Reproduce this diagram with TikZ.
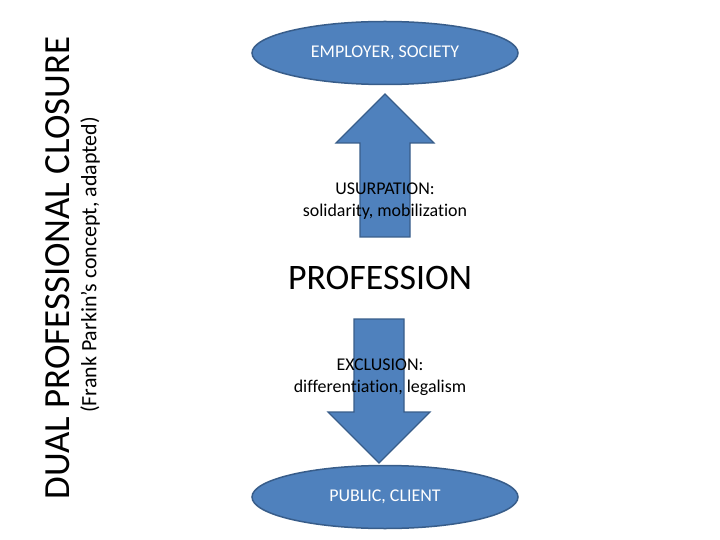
\documentclass[tikz,border=0pt]{standalone}
\usepackage{fontspec}
\setmainfont{Carlito}[Ligatures=NoCommon]
\usepackage{xcolor}
\usetikzlibrary{shapes.geometric,positioning,calc}

\definecolor{officeblue}{HTML}{4F81BD}
\definecolor{officeline}{HTML}{385D8A}

\begin{document}
\begin{tikzpicture}[
    x=1bp, y=-1bp,
    party/.style={
        ellipse, draw=officeline, line width=1.5bp, fill=officeblue,
        minimum width=266bp, minimum height=63bp, inner sep=0pt,
        text=white, font=\fontsize{18}{21}\selectfont
    },
    % block arrows: filled blue with darker border
    blockarrow/.style={
        fill=officeblue, draw=officeline, line width=1.2bp, line join=miter
    },
    lbl/.style={
        font=\fontsize{18}{22.5}\selectfont, align=center, inner sep=1pt
    }
]
\useasboundingbox (0,0) rectangle (720,540);

% === Title (rotated) ===
\node[rotate=90, font=\fontsize{37}{40}\selectfont] (title) at (58, 268) {DUAL PROFESSIONAL CLOSURE};
\node[rotate=90, font=\fontsize{22}{26}\selectfont] (subtitle) at (90, 265) {(Frank Parkin’s concept, adapted)};

% === Block arrows ===
\coordinate (uptip) at (385, 94);
\coordinate (downtip) at (379, 463);

% usurpation: points up
\draw[blockarrow] (uptip) -- ++(49, 49) -- ++(-24, 0) -- ++(0, 94)
    -- ++(-50, 0) -- ++(0, -94) -- ++(-24, 0) -- cycle;

% exclusion: points down
\draw[blockarrow] (downtip) -- ++(51, -51) -- ++(-26, 0) -- ++(0, -93)
    -- ++(-50, 0) -- ++(0, 93) -- ++(-26, 0) -- cycle;

% === Nodes ===
\node[party] (employer) at (385, 53) {EMPLOYER, SOCIETY};
\node[party] (public)   at (385, 497) {PUBLIC, CLIENT};

\node[font=\fontsize{36}{40}\selectfont] (profession) at (380, 278) {PROFESSION};

\node[lbl] (usurp) at (385, 201) {USURPATION:\\solidarity, mobilization};
\node[lbl] (excl)  at (380, 377) {EXCLUSION:\\differentiation, legalism};

\end{tikzpicture}
\end{document}
